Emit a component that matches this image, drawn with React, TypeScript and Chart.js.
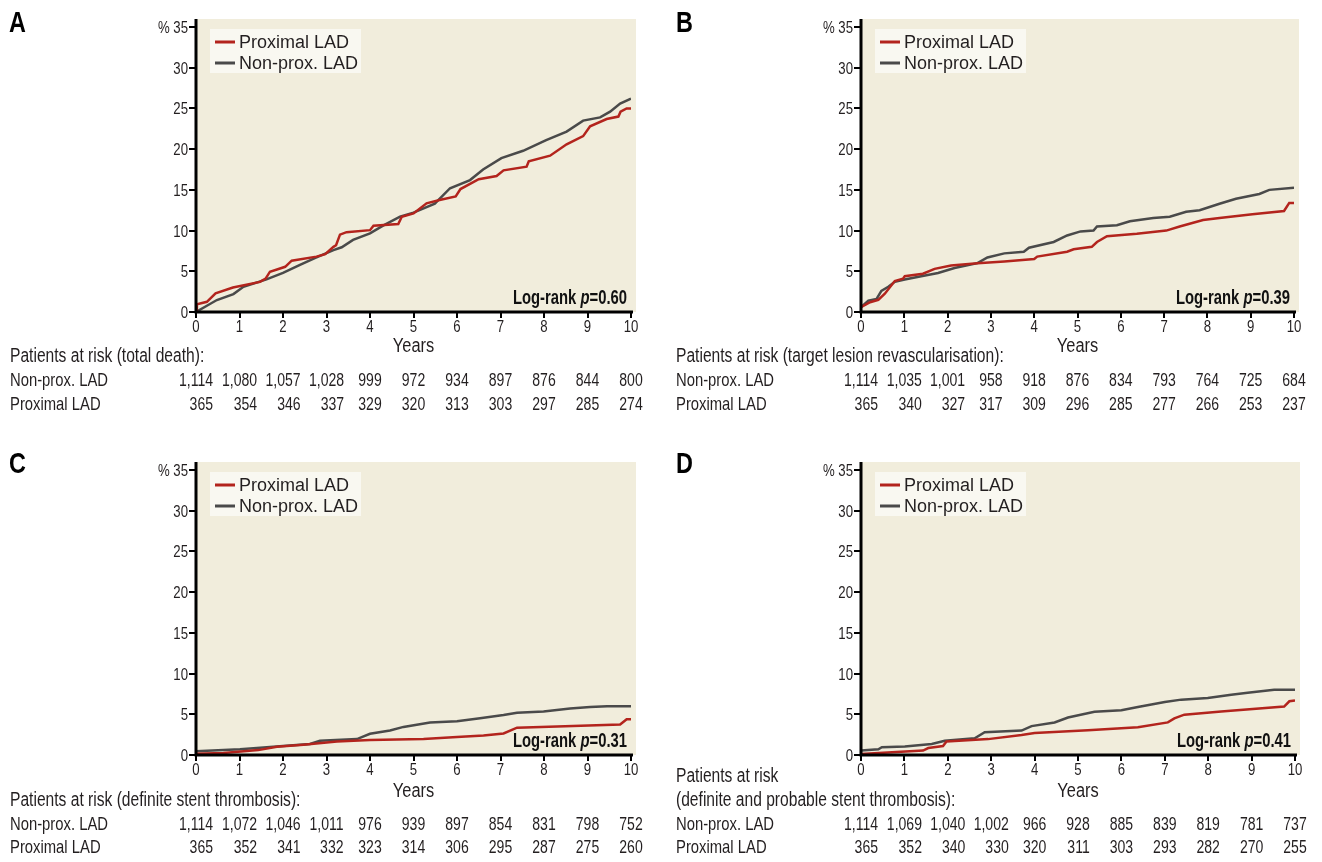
import React, { useEffect, useRef } from "react";
import { Chart, registerables } from "chart.js";

Chart.register(...registerables);

const BASE = '"Liberation Sans", Arial, sans-serif';
const SQ = 0.78; // horizontal squeeze to imitate a condensed face
const RED = "#b3241d";
const GRAY = "#4a4a4a";
const BEIGE = "#f1eddc";
const LEGEND_BG = "#f9f8f1";
const INK = "#231f20";

const yearTicks = [0, 1, 2, 3, 4, 5, 6, 7, 8, 9, 10];
const percentTicks = [0, 5, 10, 15, 20, 25, 30, 35];
const percentLabels = ["0", "5", "10", "15", "20", "25", "30", "% 35"];
const seriesNames = ["Proximal LAD", "Non-prox. LAD"];

// ---------- Panel A: total death ----------
const aProxT = [0, 0.02, 0.25, 0.45, 0.85, 1.47, 1.6, 1.7, 2.05, 2.2, 2.77, 2.97, 3.16, 3.22, 3.31, 3.46, 4.0, 4.08, 4.65, 4.73, 5.0, 5.3, 5.6, 5.97, 6.08, 6.5, 6.91, 7.07, 7.6, 7.65, 8.14, 8.52, 8.9, 9.06, 9.44, 9.71, 9.76, 9.9, 10.0];
const aProxV = [0, 0.95, 1.25, 2.3, 3.0, 3.7, 4.1, 4.95, 5.55, 6.3, 6.8, 7.1, 8.0, 8.2, 9.5, 9.8, 10.05, 10.6, 10.8, 11.7, 12.1, 13.35, 13.75, 14.2, 15.1, 16.3, 16.7, 17.4, 17.85, 18.5, 19.2, 20.6, 21.6, 22.8, 23.7, 24.0, 24.6, 25.0, 25.0];
const aNonT = [0, 0.25, 0.48, 0.86, 1.09, 1.62, 2.0, 2.39, 2.77, 3.16, 3.35, 3.61, 4.0, 4.3, 4.69, 5.0, 5.49, 5.84, 6.3, 6.6, 7.02, 7.52, 8.05, 8.52, 8.9, 9.29, 9.52, 9.75, 10.0];
const aNonV = [0, 0.77, 1.47, 2.2, 3.1, 4.0, 4.8, 5.8, 6.7, 7.6, 7.95, 8.85, 9.65, 10.6, 11.7, 12.2, 13.3, 15.2, 16.2, 17.5, 18.9, 19.8, 21.1, 22.15, 23.5, 23.9, 24.6, 25.6, 26.2];
const aRiskNon = ["1,114", "1,080", "1,057", "1,028", "999", "972", "934", "897", "876", "844", "800"];
const aRiskProx = ["365", "354", "346", "337", "329", "320", "313", "303", "297", "285", "274"];

// ---------- Panel B: target lesion revascularisation ----------
const bProxT = [0, 0.21, 0.4, 0.55, 0.78, 0.97, 1.01, 1.43, 1.7, 2.08, 2.69, 3.31, 4.0, 4.07, 4.76, 4.91, 5.33, 5.45, 5.68, 6.37, 7.05, 7.36, 7.9, 8.28, 9.04, 9.77, 9.89, 10.0];
const bProxV = [0.6, 1.2, 1.5, 2.25, 3.8, 4.1, 4.4, 4.7, 5.3, 5.7, 6.0, 6.2, 6.5, 6.8, 7.4, 7.7, 8.0, 8.6, 9.3, 9.6, 10.0, 10.5, 11.3, 11.55, 12.0, 12.4, 13.4, 13.4];
const bNonT = [0, 0.17, 0.36, 0.47, 0.63, 0.78, 1.01, 1.39, 1.78, 2.16, 2.69, 2.92, 3.31, 3.76, 3.88, 4.45, 4.76, 5.07, 5.37, 5.45, 5.91, 6.21, 6.75, 7.13, 7.51, 7.82, 8.28, 8.66, 9.2, 9.43, 10.0];
const bNonV = [0.6, 1.4, 1.6, 2.6, 3.1, 3.7, 4.0, 4.4, 4.8, 5.4, 6.0, 6.7, 7.2, 7.4, 7.9, 8.6, 9.4, 9.9, 10.0, 10.5, 10.65, 11.15, 11.55, 11.7, 12.3, 12.5, 13.3, 13.9, 14.5, 15.0, 15.25];
const bRiskNon = ["1,114", "1,035", "1,001", "958", "918", "876", "834", "793", "764", "725", "684"];
const bRiskProx = ["365", "340", "327", "317", "309", "296", "285", "277", "266", "253", "237"];

// ---------- Panel C: definite stent thrombosis ----------
const cProxT = [0, 0.63, 1.43, 1.86, 2.47, 3.24, 4.0, 5.23, 6.0, 6.61, 7.07, 7.38, 8.3, 9.75, 9.9, 10.0];
const cProxV = [0.15, 0.25, 0.6, 1.0, 1.25, 1.65, 1.85, 1.98, 2.2, 2.4, 2.65, 3.35, 3.5, 3.75, 4.4, 4.4];
const cNonT = [0, 1.01, 1.4, 2.0, 2.62, 2.85, 3.7, 4.0, 4.46, 4.77, 5.38, 6.0, 6.53, 7.07, 7.38, 7.99, 8.6, 9.06, 9.45, 10.0];
const cNonV = [0.45, 0.7, 0.85, 1.1, 1.35, 1.75, 1.95, 2.6, 3.0, 3.45, 4.0, 4.15, 4.5, 4.9, 5.2, 5.35, 5.7, 5.9, 6.0, 6.0];
const cRiskNon = ["1,114", "1,072", "1,046", "1,011", "976", "939", "897", "854", "831", "798", "752"];
const cRiskProx = ["365", "352", "341", "332", "323", "314", "306", "295", "287", "275", "260"];

// ---------- Panel D: definite and probable stent thrombosis ----------
const dProxT = [0, 1.43, 1.55, 1.89, 1.97, 2.93, 3.7, 4.0, 5.23, 6.38, 7.07, 7.22, 7.45, 8.3, 9.75, 9.87, 10.0];
const dProxV = [0.12, 0.55, 0.85, 1.1, 1.65, 1.95, 2.45, 2.7, 3.05, 3.4, 4.0, 4.5, 4.95, 5.35, 5.95, 6.6, 6.7];
const dNonT = [0, 0.4, 0.48, 1.01, 1.63, 1.93, 2.62, 2.85, 3.7, 3.93, 4.46, 4.77, 5.38, 6.0, 6.38, 7.0, 7.38, 7.99, 8.53, 8.91, 9.52, 10.0];
const dNonV = [0.55, 0.7, 0.95, 1.05, 1.35, 1.75, 2.05, 2.8, 3.0, 3.55, 4.0, 4.6, 5.3, 5.5, 5.9, 6.5, 6.8, 7.0, 7.4, 7.65, 8.0, 8.0];
const dRiskNon = ["1,114", "1,069", "1,040", "1,002", "966", "928", "885", "839", "819", "781", "737"];
const dRiskProx = ["365", "352", "340", "330", "320", "311", "303", "293", "282", "270", "255"];

const W = 661;
const H = 431;

// draw condensed text (real canvas text, squeezed horizontally)
function cText(ctx: CanvasRenderingContext2D, s: string, x: number, y: number, font: string, align: "left" | "right" | "center" = "left", sq: number = SQ) {
  ctx.save();
  ctx.font = font;
  ctx.textAlign = "left";
  ctx.textBaseline = "alphabetic";
  const w = ctx.measureText(s).width * sq;
  let x0 = x;
  if (align === "right") x0 = x - w;
  else if (align === "center") x0 = x - w / 2;
  ctx.translate(x0, y);
  ctx.scale(sq, 1);
  ctx.fillText(s, 0, 0);
  ctx.restore();
  return w;
}
function cWidth(ctx: CanvasRenderingContext2D, s: string, font: string, sq: number = SQ) {
  ctx.save();
  ctx.font = font;
  const w = ctx.measureText(s).width * sq;
  ctx.restore();
  return w;
}

type PanelProps = {
  left: number;
  top: number;
  letter: string;
  letterX: number;
  letterBase: number;
  axisX: number;
  rightX: number;
  top35: number;
  zeroY: number;
  proxT: number[];
  proxV: number[];
  nonT: number[];
  nonV: number[];
  pValue: string;
  yearsBase: number;
  labelX: number;
  titleLines: string[];
  titleBases: number[];
  rowBases: number[];
  riskNon: string[];
  riskProx: string[];
};

function Panel(p: PanelProps) {
  const ref = useRef<HTMLCanvasElement | null>(null);
  useEffect(() => {
    const canvas = ref.current;
    if (!canvas) return;
    const toPts = (t: number[], v: number[]) => t.map((x, i) => ({ x, y: v[i] }));
    const tickFont = `16.5px ${BASE}`;
    const titleFont = `20px ${BASE}`;
    const rowFont = `19px ${BASE}`;
    const numFont = `18px ${BASE}`;
    const plugin = {
      id: "panelDecor" + p.letter,
      beforeDraw(chart: any) {
        const { ctx, chartArea: ca } = chart;
        ctx.save();
        ctx.fillStyle = BEIGE;
        ctx.fillRect(ca.left, ca.top - 8, ca.right - ca.left + 5, ca.bottom - ca.top + 8);
        ctx.restore();
      },
      afterDatasetsDraw(chart: any) {
        const { ctx, chartArea: ca } = chart;
        const xs = chart.scales.x;
        const ys = chart.scales.y;
        ctx.save();
        // axes
        ctx.strokeStyle = "#000";
        ctx.lineWidth = 3;
        ctx.beginPath();
        ctx.moveTo(ca.left, ca.top - 8);
        ctx.lineTo(ca.left, ca.bottom + 1.5);
        ctx.moveTo(ca.left - 1.5, ca.bottom);
        ctx.lineTo(ca.right + 2, ca.bottom);
        ctx.stroke();

        // tick labels
        ctx.fillStyle = INK;
        percentTicks.forEach((v, i) => {
          cText(ctx, percentLabels[i], ca.left - 8, ys.getPixelForValue(v) + 6, tickFont, "right", 0.8);
        });
        yearTicks.forEach((v) => {
          cText(ctx, String(v), xs.getPixelForValue(v), ca.bottom + 20, tickFont, "center", 0.8);
        });

        // legend box
        const lx = ca.left + 14;
        const ly = ca.top + 2;
        ctx.fillStyle = LEGEND_BG;
        ctx.fillRect(lx, ly, 151, 44);
        ctx.lineWidth = 3;
        const colors = [RED, GRAY];
        ctx.font = `18px ${BASE}`;
        ctx.textBaseline = "alphabetic";
        ctx.textAlign = "left";
        seriesNames.forEach((name, i) => {
          const yLine = ly + 13 + i * 21;
          ctx.strokeStyle = colors[i];
          ctx.beginPath();
          ctx.moveTo(lx + 5, yLine);
          ctx.lineTo(lx + 25, yLine);
          ctx.stroke();
          ctx.fillStyle = INK;
          ctx.fillText(name, lx + 29, ly + 19 + i * 21);
        });

        // log-rank text
        const parts: [string, string][] = [
          ["Log-rank ", `bold 19.5px ${BASE}`],
          ["p", `italic bold 19.5px ${BASE}`],
          ["=" + p.pValue, `bold 19.5px ${BASE}`],
        ];
        const lsq = 0.76;
        let total = 0;
        parts.forEach(([s, f]) => {
          total += cWidth(ctx, s, f, lsq);
        });
        let x = ca.right - 4 - total;
        ctx.fillStyle = "#111";
        parts.forEach(([s, f]) => {
          x += cText(ctx, s, x, ca.bottom - 8, f, "left", lsq);
        });

        // panel letter
        ctx.fillStyle = "#000";
        cText(ctx, p.letter, p.letterX, p.letterBase, `bold 30px ${BASE}`, "left", 0.78);

        // Years
        ctx.fillStyle = INK;
        cText(ctx, "Years", (ca.left + ca.right) / 2, p.yearsBase, `20px ${BASE}`, "center", 0.82);

        // risk table
        p.titleLines.forEach((line, i) => cText(ctx, line, p.labelX, p.titleBases[i], titleFont, "left"));
        cText(ctx, seriesNames[1], p.labelX, p.rowBases[0], rowFont, "left");
        cText(ctx, seriesNames[0], p.labelX, p.rowBases[1], rowFont, "left");
        yearTicks.forEach((yr, i) => {
          const cx = xs.getPixelForValue(yr);
          const w = Math.max(cWidth(ctx, p.riskNon[i], numFont), cWidth(ctx, p.riskProx[i], numFont));
          const rx = cx + w / 2;
          cText(ctx, p.riskNon[i], rx, p.rowBases[0], numFont, "right");
          cText(ctx, p.riskProx[i], rx, p.rowBases[1], numFont, "right");
        });
        ctx.restore();
      },
    };

    const chart = new Chart(canvas, {
      type: "line",
      data: {
        datasets: [
          {
            label: seriesNames[0],
            data: toPts(p.proxT, p.proxV),
            borderColor: RED,
            borderWidth: 2.5,
            pointRadius: 0,
            fill: false,
            tension: 0,
          },
          {
            label: seriesNames[1],
            data: toPts(p.nonT, p.nonV),
            borderColor: GRAY,
            borderWidth: 2.5,
            pointRadius: 0,
            fill: false,
            tension: 0,
          },
        ],
      },
      options: {
        animation: false,
        responsive: false,
        devicePixelRatio: 1,
        layout: {
          padding: {
            left: p.axisX - 40,
            right: W - p.rightX,
            top: p.top35,
            bottom: H - p.zeroY - 20,
          },
        },
        plugins: { legend: { display: false }, tooltip: { enabled: false } },
        scales: {
          x: {
            type: "linear",
            min: 0,
            max: 10,
            afterFit: (s: any) => {
              s.height = 20;
            },
            afterBuildTicks: (s: any) => {
              s.ticks = yearTicks.map((v) => ({ value: v }));
            },
            grid: { drawOnChartArea: false, drawTicks: true, tickLength: 6, color: "#000", lineWidth: 2 },
            border: { display: false },
            ticks: { display: false },
          },
          y: {
            type: "linear",
            min: 0,
            max: 35,
            afterFit: (s: any) => {
              s.width = 40;
            },
            afterBuildTicks: (s: any) => {
              s.ticks = percentTicks.map((v) => ({ value: v }));
            },
            grid: { drawOnChartArea: false, drawTicks: true, tickLength: 7, color: "#000", lineWidth: 2 },
            border: { display: false },
            ticks: { display: false },
          },
        },
      },
      plugins: [plugin],
    } as any);
    return () => chart.destroy();
  }, []);
  return (
    <canvas
      ref={ref}
      width={W}
      height={H}
      style={{ position: "absolute", left: p.left, top: p.top, width: W, height: H }}
    />
  );
}

export default function App() {
  return (
    <div style={{ position: "absolute", left: 0, top: 0, width: 1322, height: 862, background: "#fff", overflow: "hidden" }}>
      <Panel
        left={0}
        top={0}
        letter="A"
        letterX={9}
        letterBase={32}
        axisX={196}
        rightX={631}
        top35={27}
        zeroY={312}
        proxT={aProxT}
        proxV={aProxV}
        nonT={aNonT}
        nonV={aNonV}
        pValue="0.60"
        yearsBase={352}
        labelX={10}
        titleLines={["Patients at risk (total death):"]}
        titleBases={[362]}
        rowBases={[386, 410]}
        riskNon={aRiskNon}
        riskProx={aRiskProx}
      />
      <Panel
        left={661}
        top={0}
        letter="B"
        letterX={15}
        letterBase={32}
        axisX={200}
        rightX={633}
        top35={27}
        zeroY={312}
        proxT={bProxT}
        proxV={bProxV}
        nonT={bNonT}
        nonV={bNonV}
        pValue="0.39"
        yearsBase={352}
        labelX={15}
        titleLines={["Patients at risk (target lesion revascularisation):"]}
        titleBases={[362]}
        rowBases={[386, 410]}
        riskNon={bRiskNon}
        riskProx={bRiskProx}
      />
      <Panel
        left={0}
        top={431}
        letter="C"
        letterX={9}
        letterBase={42}
        axisX={196}
        rightX={631}
        top35={39}
        zeroY={324}
        proxT={cProxT}
        proxV={cProxV}
        nonT={cNonT}
        nonV={cNonV}
        pValue="0.31"
        yearsBase={366}
        labelX={10}
        titleLines={["Patients at risk (definite stent thrombosis):"]}
        titleBases={[375]}
        rowBases={[399, 422]}
        riskNon={cRiskNon}
        riskProx={cRiskProx}
      />
      <Panel
        left={661}
        top={431}
        letter="D"
        letterX={15}
        letterBase={42}
        axisX={200}
        rightX={634}
        top35={39}
        zeroY={324}
        proxT={dProxT}
        proxV={dProxV}
        nonT={dNonT}
        nonV={dNonV}
        pValue="0.41"
        yearsBase={366}
        labelX={15}
        titleLines={["Patients at risk", "(definite and probable stent thrombosis):"]}
        titleBases={[351, 375]}
        rowBases={[399, 422]}
        riskNon={dRiskNon}
        riskProx={dRiskProx}
      />
    </div>
  );
}
